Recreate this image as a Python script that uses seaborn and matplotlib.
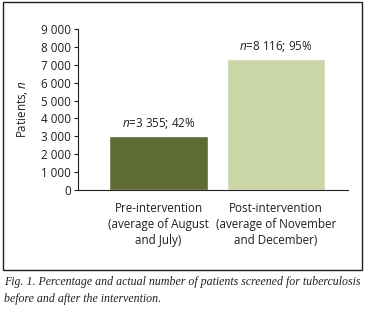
import numpy as np
import pandas as pd
import matplotlib
matplotlib.use("Agg")
import matplotlib.pyplot as plt
import matplotlib.patches as patches
from matplotlib.ticker import FuncFormatter
import seaborn as sns

# data
categories = ["Pre-intervention\n(average of August\nand July)",
              "Post-intervention\n(average of November\nand December)"]
bar_values = [3020, 7310]
counts = ["3 355", "8 116"]
percents = [42, 95]
bar_colors = ["#5E6B33", "#CBD6A6"]
y_ticks = list(range(0, 10000, 1000))

sns.set_style("white")
plt.rcParams["font.family"] = ["Open Sans", "DejaVu Sans"]
plt.rcParams["mathtext.fontset"] = "custom"
plt.rcParams["mathtext.it"] = "Open Sans:italic"
plt.rcParams["mathtext.rm"] = "Open Sans"

ink = "#231F20"

fig = plt.figure(figsize=(3.67, 3.09), dpi=100)
ax = fig.add_axes([77.7 / 367, 119 / 309, 270.3 / 367, 161 / 309])

df = pd.DataFrame({"cat": categories, "val": bar_values})
sns.barplot(data=df, x="cat", y="val", hue="cat", palette=bar_colors,
            width=0.84, legend=False, ax=ax, saturation=1)

ax.set_xlim(-0.688, 1.613)
ax.set_ylim(0, 9000)
ax.set_yticks(y_ticks)
ax.yaxis.set_major_formatter(FuncFormatter(lambda v, p: f"{int(v):,}".replace(",", " ")))
ax.tick_params(axis="y", direction="out", length=3, width=0.8, color=ink,
               labelsize=8.4, labelcolor=ink, pad=2, left=True)
ax.tick_params(axis="x", length=0, labelsize=8.4, labelcolor=ink, pad=9)
for lbl in ax.get_xticklabels():
    lbl.set_linespacing(1.27)
ax.set_xlabel("")
ax.set_ylabel("Patients, $\\it{n}$", fontsize=8.4, color=ink, labelpad=8)

for s in ["top", "right"]:
    ax.spines[s].set_visible(False)
for s in ["left", "bottom"]:
    ax.spines[s].set_color(ink)
    ax.spines[s].set_linewidth(0.8)

# labels above the bars
for i, (c, p) in enumerate(zip(counts, percents)):
    ax.text(i, bar_values[i] + 700, f"$\\it{{n}}$={c}; {p}%", ha="center",
            va="center", fontsize=8.4, color=ink)

# frame round the chart
fig.patches.append(patches.Rectangle((3 / 367, 39 / 309), 359 / 367, 268 / 309,
                                     transform=fig.transFigure, fill=False,
                                     edgecolor=ink, linewidth=1.0))

fig.text(4 / 367, 1 - 290.5 / 309,
         "Fig. 1. Percentage and actual number of patients screened for tuberculosis\n"
         "before and after the intervention.",
         family="Liberation Serif", style="italic", fontsize=8.6, color=ink,
         va="center", ha="left", linespacing=1.45)

fig.savefig("out.png", dpi=100)
